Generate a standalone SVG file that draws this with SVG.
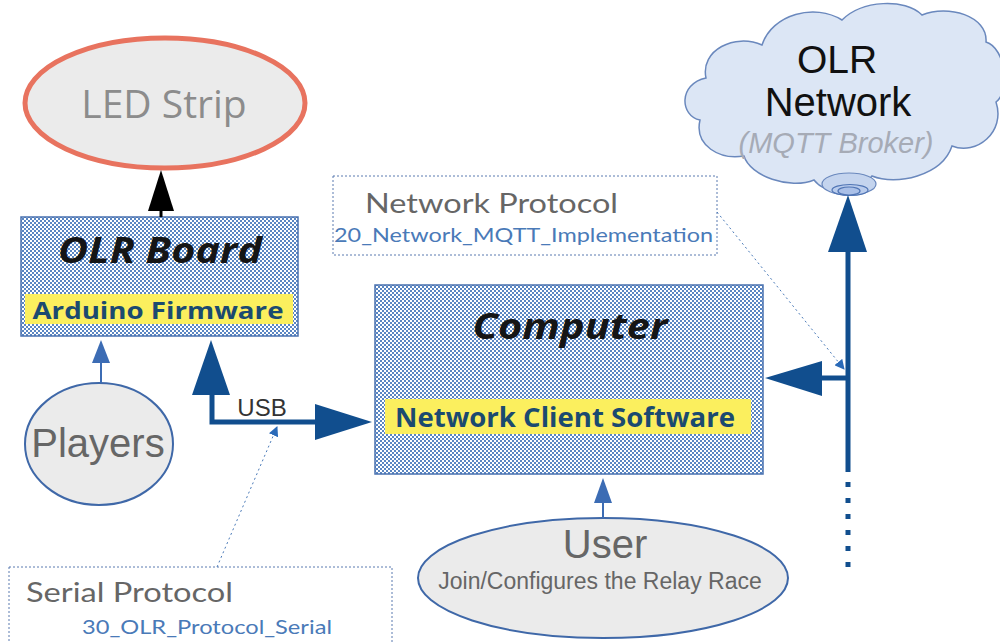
<svg xmlns="http://www.w3.org/2000/svg" width="1000" height="643" viewBox="0 0 1000 643">
<defs>
<pattern id="chk" width="4" height="4" patternUnits="userSpaceOnUse">
<rect width="4" height="4" fill="#ffffff"/>
<rect x="0" y="0" width="2" height="2" fill="#5a86c2"/>
<rect x="2" y="2" width="2" height="2" fill="#5a86c2"/>
</pattern>
<marker id="small" viewBox="0 0 10 10" refX="9" refY="5" markerWidth="10" markerHeight="10" markerUnits="userSpaceOnUse" orient="auto">
<path d="M0,0 L10,5 L0,10 Z" fill="#2a6ab8"/>
</marker>
<style>
.box{fill:url(#chk);stroke:#4a72b0;stroke-width:1.5}
.hl{fill:#fbef5e}
.title{font-family:"Open Sans","Noto Sans",sans-serif;font-weight:700;font-style:italic;fill:#151515;text-anchor:middle}
.sub{font-family:"Open Sans","Noto Sans",sans-serif;font-weight:700;fill:#1b4a70;text-anchor:middle}
.ell{fill:#ebebeb;stroke:#3f68a8;stroke-width:2}
.grey{font-family:"Liberation Sans",Arial,sans-serif;fill:#666;text-anchor:middle}
.note{fill:none;stroke:#5a7ab0;stroke-width:1;stroke-dasharray:2 2}
.ntitle{font-family:Lato,"Open Sans",sans-serif;fill:#666}
.nlink{font-family:Lato,"Open Sans",sans-serif;fill:#4a7ab8}
.thick{stroke:#114e8e;stroke-width:5;fill:none}
.head{fill:#114e8e}
.dot{stroke:#4a7ab8;stroke-width:1;stroke-dasharray:2 3;fill:none}
</style>
</defs>

<g id="cloud-network">
<path d="M700,120 C680,116 678,84 706,78 C700,50 735,33 762,45 C772,14 815,3 842,20 C862,0 905,-2 922,15 C948,4 988,16 986,42 C1006,48 1010,92 996,102 C1006,132 976,156 952,146 C942,176 896,186 872,176 C858,194 826,196 814,180 C790,190 750,176 744,156 C720,160 694,146 700,120 Z" fill="#dce6f5" stroke="#6a88bd" stroke-width="1.5"/>
<ellipse cx="849" cy="184" rx="27" ry="11" fill="#c4d4ee" stroke="#6a88bd" stroke-width="1.2"/>
<ellipse cx="850" cy="190" rx="18" ry="5.5" fill="#b8cbec" stroke="#4f74b4" stroke-width="1.2"/>
<ellipse cx="849" cy="191" rx="11" ry="4" fill="#aac0e8" stroke="#4f74b4" stroke-width="1.2"/>
<text x="837" y="73" font-family="Liberation Sans,Arial,sans-serif" font-size="39" fill="#111" text-anchor="middle">OLR</text>
<text x="838" y="116" font-family="Liberation Sans,Arial,sans-serif" font-size="40" fill="#111" text-anchor="middle">Network</text>
<text x="836" y="153" font-family="Liberation Sans,Arial,sans-serif" font-size="29" font-style="italic" fill="#a6abb6" text-anchor="middle">(MQTT Broker)</text>
</g>

<g id="led-strip">
<ellipse cx="165" cy="103" rx="140" ry="65" fill="#ebebeb" stroke="#e8735f" stroke-width="5"/>
<text x="164" y="118" font-family="Open Sans,Noto Sans,sans-serif" font-size="39" fill="#8c8c8c" text-anchor="middle">LED Strip</text>
</g>

<g id="olr-board">
<rect class="box" x="21" y="217" width="277" height="119"/>
<text class="title" x="160" y="263" font-size="36" textLength="204" lengthAdjust="spacingAndGlyphs">OLR Board</text>
<rect class="hl" x="25" y="294" width="268" height="30"/>
<text class="sub" x="158" y="319" font-size="24" textLength="251" lengthAdjust="spacingAndGlyphs">Arduino Firmware</text>
</g>

<g id="computer">
<rect class="box" x="375" y="285" width="388" height="189"/>
<text class="title" x="570" y="339" font-size="36" textLength="195" lengthAdjust="spacingAndGlyphs">Computer</text>
<rect class="hl" x="385" y="399" width="366" height="35"/>
<text class="sub" x="565" y="427" font-size="26" textLength="340" lengthAdjust="spacingAndGlyphs">Network Client Software</text>
</g>

<g id="players">
<ellipse class="ell" cx="99" cy="444" rx="74" ry="61"/>
<text class="grey" x="98" y="457" font-size="40">Players</text>
</g>

<g id="user">
<ellipse class="ell" cx="603" cy="578" rx="185" ry="60"/>
<text class="grey" x="605" y="558" font-size="40">User</text>
<text class="grey" x="600" y="589" font-size="23">Join/Configures the Relay Race</text>
</g>

<g id="network-protocol-note">
<rect class="note" x="333" y="176" width="384" height="79"/>
<text class="ntitle" x="365" y="213" font-size="27" textLength="253" lengthAdjust="spacingAndGlyphs">Network Protocol</text>
<text class="nlink" x="334" y="242" font-size="20" textLength="379" lengthAdjust="spacingAndGlyphs">20_Network_MQTT_Implementation</text>
</g>

<g id="serial-protocol-note">
<rect class="note" x="9" y="567" width="383" height="90"/>
<text class="ntitle" x="26" y="602" font-size="27" textLength="207" lengthAdjust="spacingAndGlyphs">Serial Protocol</text>
<text class="nlink" x="82" y="634" font-size="20" textLength="250" lengthAdjust="spacingAndGlyphs">30_OLR_Protocol_Serial</text>
</g>

<g id="connectors">
<!-- board to LED strip -->
<line x1="161" y1="217" x2="161" y2="205" stroke="#000" stroke-width="3"/>
<polygon points="161,170 148,211 174,211" fill="#000"/>
<!-- players to board -->
<line x1="101" y1="383" x2="101" y2="360" stroke="#3c6cb4" stroke-width="2"/>
<polygon points="101,340 92,363 110,363" fill="#3c6cb4"/>
<!-- user to computer -->
<line x1="603" y1="518" x2="603" y2="500" stroke="#3c6cb4" stroke-width="2"/>
<polygon points="603,478 594,503 612,503" fill="#3c6cb4"/>
<!-- USB -->
<path class="thick" d="M212,392 L212,422 L318,422"/>
<polygon class="head" points="211,340 192,395 230,395"/>
<polygon class="head" points="372,422 315,404 315,440"/>
<text x="262" y="416" font-family="Liberation Sans,Arial,sans-serif" font-size="24" fill="#333" text-anchor="middle">USB</text>
<!-- network bus -->
<line class="thick" x1="848" y1="248" x2="848" y2="472"/>
<polygon class="head" points="848,195 828,252 867,252"/>
<line class="thick" x1="848" y1="482" x2="848" y2="572" stroke-dasharray="5 11"/>
<line class="thick" x1="848" y1="378" x2="818" y2="378"/>
<polygon class="head" points="765,378 822,361 822,396"/>
<!-- note links -->
<line class="dot" x1="217" y1="567" x2="277" y2="427" marker-end="url(#small)"/>
<line class="dot" x1="717" y1="212" x2="844" y2="369" marker-end="url(#small)"/>
</g>
</svg>
